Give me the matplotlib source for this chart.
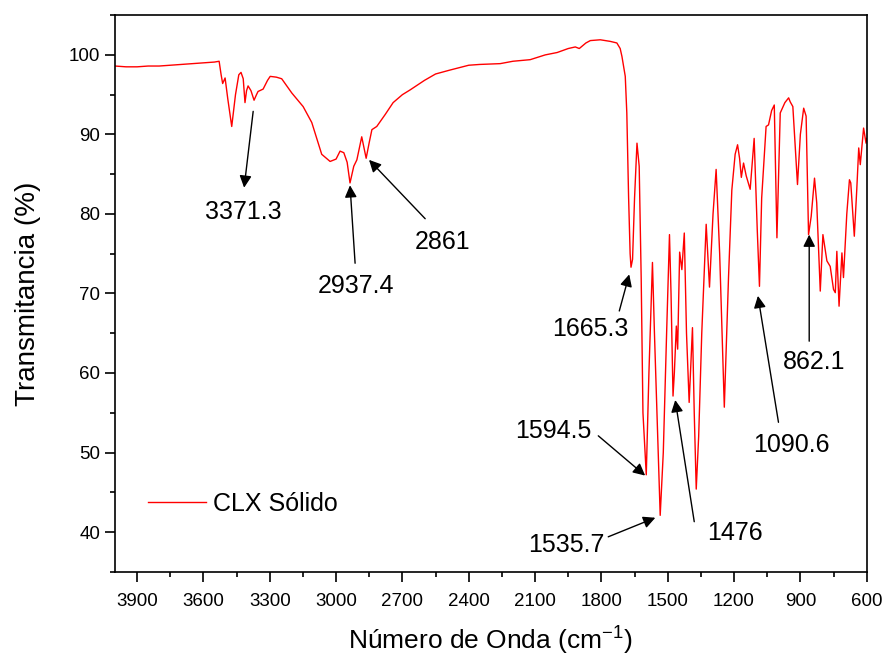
import numpy as np
import matplotlib
matplotlib.use('Agg')
import matplotlib.pyplot as plt
from matplotlib.ticker import MultipleLocator

plt.rcParams['font.family'] = ['Liberation Sans', 'DejaVu Sans']
plt.rcParams['mathtext.fontset'] = 'custom'
plt.rcParams['mathtext.rm'] = 'Liberation Sans'

# FTIR spectrum (wavenumber cm-1, transmittance %)
wavenumber = [4000, 3950, 3900, 3850, 3800, 3750, 3700, 3650, 3600, 3550, 3529, 3520,
              3513, 3502, 3490, 3472, 3455, 3440, 3430, 3420, 3412, 3405, 3398, 3385,
              3371, 3360, 3353, 3330, 3310, 3298, 3270, 3246, 3200, 3149, 3110, 3065,
              3027, 3000, 2982, 2965, 2950, 2937, 2920, 2906, 2884, 2875, 2864, 2850,
              2838, 2816, 2778, 2742, 2700, 2665, 2600, 2550, 2484, 2400, 2350, 2258,
              2200, 2122, 2054, 2000, 1950, 1918, 1900, 1870, 1850, 1805, 1760, 1730,
              1715, 1707, 1692, 1685, 1677, 1670, 1666, 1659, 1650, 1639, 1629, 1620,
              1612, 1597, 1585, 1569, 1560, 1534, 1520, 1505, 1492, 1485, 1476, 1470,
              1461, 1455, 1446, 1436, 1425, 1415, 1403, 1388, 1380, 1371, 1360, 1346,
              1326, 1311, 1295, 1281, 1265, 1244, 1225, 1210, 1195, 1184, 1175, 1167,
              1157, 1145, 1127, 1109, 1095, 1085, 1075, 1055, 1044, 1030, 1018, 1006,
              991, 970, 953, 946, 934, 913, 900, 885, 874, 863, 851, 836,
              826, 810, 798, 780, 765, 750, 742, 735, 725, 712, 705, 690,
              678, 672, 656, 645, 636, 629, 614, 603, 600]
transmit = [98.6, 98.5, 98.5, 98.6, 98.6, 98.7, 98.8, 98.9, 99.0, 99.1, 99.2, 97.5,
            96.4, 97.1, 94.5, 91.0, 95.0, 97.5, 97.8, 97.0, 94.0, 95.5, 96.1, 95.5,
            94.3, 95.0, 95.4, 95.7, 96.8, 97.3, 97.2, 97.0, 95.2, 93.5, 91.5, 87.5,
            86.6, 86.9, 87.9, 87.7, 86.5, 83.9, 86.0, 86.8, 89.7, 88.5, 87.0, 89.0,
            90.6, 91.0, 92.5, 94.0, 95.0, 95.6, 96.8, 97.6, 98.1, 98.7, 98.8, 98.9,
            99.2, 99.4, 100.0, 100.3, 100.8, 101.0, 100.8, 101.5, 101.8, 101.9, 101.7, 101.5,
            100.8, 99.8, 97.3, 92.7, 82.2, 75.0, 73.3, 74.3, 82.0, 88.9, 86.0, 72.0,
            55.0, 47.2, 60.0, 73.9, 65.0, 42.1, 50.0, 65.0, 77.4, 70.0, 57.1, 60.0,
            65.9, 63.0, 75.2, 73.0, 77.6, 65.0, 56.3, 65.7, 55.0, 45.4, 52.0, 65.0,
            78.7, 70.8, 80.0, 85.6, 75.0, 55.7, 72.0, 83.0, 87.5, 88.7, 87.0, 84.6,
            86.4, 84.8, 83.1, 89.5, 78.0, 70.9, 82.0, 91.0, 91.2, 93.0, 93.7, 77.0,
            92.7, 94.0, 94.6, 94.1, 93.5, 83.7, 90.0, 93.3, 92.3, 77.4, 79.7, 84.5,
            81.4, 70.3, 77.4, 74.1, 73.4, 70.5, 70.1, 75.3, 68.4, 75.1, 72.0, 80.0,
            84.3, 83.9, 77.2, 83.0, 88.3, 86.2, 90.8, 88.9, 89.5]

# peak labels: text, arrow head (x, y), arrow tail (x, y), text centre (x, y)
peak_labels = ['3371.3', '2937.4', '2861', '1665.3', '1594.5', '1535.7', '1476', '1090.6', '862.1']
head_xy = [(3416, 83.3), (2937, 83.6), (2851, 86.8), (1674, 72.4), (1602, 47.1),
           (1556, 41.8), (1466, 56.6), (1092, 69.7), (860, 77.4)]
tail_xy = [(3375, 92.9), (2914, 73.8), (2597, 79.4), (1719, 67.8), (1814, 52.1),
           (1769, 39.4), (1380, 41.3), (999, 53.8), (860, 64.0)]
text_xy = [(3421, 80.3), (2909, 71.0), (2520, 76.5), (1851, 65.5), (2018, 52.7),
           (1959, 38.4), (1194, 39.9), (942, 50.9), (837, 61.4)]

fig = plt.figure(figsize=(8.88, 6.58), dpi=100)
ax = fig.add_axes([0.1295, 0.131, 0.8465, 0.846])

ax.plot(wavenumber, transmit, color='#ff0000', lw=1.0, label='CLX Sólido')

for lab, h, t, p in zip(peak_labels, head_xy, tail_xy, text_xy):
    ax.annotate('', xy=h, xytext=t,
                arrowprops=dict(arrowstyle='-|>', color='black', lw=1.0,
                                mutation_scale=18, shrinkA=0, shrinkB=0))
    ax.text(p[0], p[1], lab, fontsize=18, ha='center', va='center')

ax.set_xlim(4000, 600)
ax.set_ylim(35, 105)
ax.xaxis.set_major_locator(MultipleLocator(300))
ax.xaxis.set_minor_locator(MultipleLocator(150))
ax.yaxis.set_major_locator(MultipleLocator(10))
ax.yaxis.set_minor_locator(MultipleLocator(5))
ax.set_xticks(np.arange(3900, 599, -300))
ax.tick_params(which='major', direction='out', length=7, width=1.2, labelsize=13.5)
ax.tick_params(axis='x', which='major', pad=8)
ax.tick_params(which='minor', direction='out', length=3.5, width=1.2)
for s in ax.spines.values():
    s.set_linewidth(1.2)

ax.set_xlabel('Número de Onda (cm$^{-1}$)', fontsize=19, labelpad=10)
ax.set_ylabel('Transmitancia (%)', fontsize=20, labelpad=20)

ax.legend(loc='center left', bbox_to_anchor=(0.044, 0.122), frameon=False,
          fontsize=18, handlelength=2.3, handletextpad=0.3, borderpad=0, borderaxespad=0)

fig.savefig('out.png', dpi=100)
